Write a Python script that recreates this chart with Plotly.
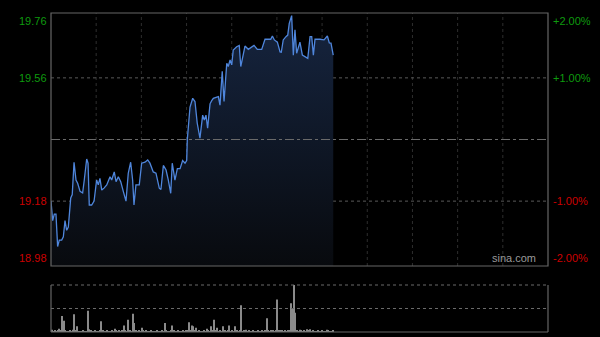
import plotly.graph_objects as go

# ---- data ----
minutes = [0, 1.1, 2.2, 3.3, 4.4, 5.5, 7.1, 8.2, 9.3, 10.4, 11.5, 13.1, 14.1, 15.3, 16.6, 17.7,
           19.3, 21.0, 22.1, 23.7, 24.6, 25.4, 27.0, 28.6, 30.3, 31.4, 32.5, 33.7, 35.2, 37.0,
           39.2, 40.3, 42.0, 43.2, 44.7, 46.3, 48.0, 49.8, 51.3, 52.9, 54.2, 55.1, 56.4, 58.6,
           60.2, 62.4, 64.2, 65.7, 67.9, 69.7, 71.9, 73.0, 74.6, 76.4, 77.9, 79.5, 80.5, 82.3,
           83.9, 85.7, 87.4, 89.0, 90.1, 90.5, 92.3, 94.1, 95.6, 97.1, 98.9, 100.7, 101.8, 102.9,
           104.0, 105.6, 106.7, 107.8, 109.6, 111.1, 112.2, 113.7, 114.9, 116.7, 117.7, 118.9,
           120.0, 121.0, 123.3, 125.0, 126.0, 127.3, 128.8, 131.0, 133.3, 134.8, 137.0, 139.9,
           142.1, 144.3, 145.9, 147.0, 148.3, 150.3, 152.1, 152.9, 154.2, 156.0, 157.2, 158.2,
           159.8, 160.9, 162.0, 163.1, 164.2, 165.3, 166.9, 168.7, 170.5, 172.0, 173.1, 174.2,
           175.3, 178.6, 181.3, 183.5, 184.8, 185.9, 187.4]
prices = [19.18, 19.12, 19.14, 19.14, 19.04, 19.06, 19.06, 19.07, 19.12, 19.09, 19.10, 19.19, 19.20,
          19.30, 19.245, 19.235, 19.21, 19.205, 19.245, 19.31, 19.297, 19.168, 19.168, 19.18,
          19.245, 19.23, 19.25, 19.214, 19.22, 19.23, 19.255, 19.245, 19.27, 19.24, 19.255, 19.24,
          19.21, 19.18, 19.266, 19.30, 19.245, 19.168, 19.23, 19.23, 19.297, 19.30, 19.307, 19.297,
          19.27, 19.266, 19.22, 19.216, 19.29, 19.276, 19.245, 19.204, 19.297, 19.245, 19.28,
          19.28, 19.305, 19.297, 19.305, 19.37, 19.47, 19.497, 19.487, 19.42, 19.374, 19.445,
          19.43, 19.445, 19.405, 19.48, 19.49, 19.497, 19.50, 19.502, 19.476, 19.58, 19.487,
          19.605, 19.595, 19.615, 19.60, 19.646, 19.656, 19.66, 19.595, 19.63, 19.658, 19.648,
          19.656, 19.66, 19.648, 19.648, 19.679, 19.68, 19.679, 19.689, 19.677, 19.67, 19.64,
          19.639, 19.677, 19.687, 19.692, 19.728, 19.752, 19.63, 19.708, 19.636, 19.656, 19.67,
          19.63, 19.625, 19.62, 19.687, 19.687, 19.63, 19.679, 19.679, 19.677, 19.689, 19.668,
          19.667, 19.63]

volume = [0.05, 0.02, 0.03, 0.02, 0.03, 0.07, 0.03, 0.34, 0.24, 0.03,
          0.02, 0.02, 0.03, 0.02, 0.05, 0.38, 0.03, 0.12, 0.02, 0.02,
          0.02, 0.03, 0.02, 0.02, 0.45, 0.06, 0.03, 0.02, 0.02, 0.03,
          0.02, 0.02, 0.03, 0.23, 0.04, 0.02, 0.02, 0.03, 0.02, 0.02,
          0.03, 0.02, 0.07, 0.03, 0.02, 0.03, 0.02, 0.04, 0.14, 0.03,
          0.02, 0.26, 0.03, 0.02, 0.39, 0.19, 0.03, 0.02, 0.03, 0.02,
          0.09, 0.04, 0.02, 0.03, 0.02, 0.02, 0.03, 0.02, 0.02, 0.02,
          0.03, 0.02, 0.02, 0.03, 0.02, 0.19, 0.03, 0.02, 0.02, 0.03,
          0.14, 0.03, 0.02, 0.02, 0.03, 0.02, 0.02, 0.03, 0.02, 0.04,
          0.03, 0.21, 0.04, 0.14, 0.12, 0.03, 0.09, 0.02, 0.03, 0.02,
          0.02, 0.03, 0.02, 0.07, 0.03, 0.02, 0.12, 0.04, 0.26, 0.03,
          0.09, 0.02, 0.03, 0.02, 0.12, 0.03, 0.02, 0.03, 0.14, 0.02,
          0.03, 0.02, 0.12, 0.03, 0.02, 0.03, 0.57, 0.02, 0.03, 0.05,
          0.02, 0.03, 0.02, 0.02, 0.03, 0.02, 0.02, 0.03, 0.02, 0.02,
          0.03, 0.02, 0.04, 0.29, 0.03, 0.02, 0.04, 0.03, 0.02, 0.03,
          0.69, 0.03, 0.04, 0.03, 0.02, 0.03, 0.02, 0.03, 0.04, 0.61,
          0.50, 1.00, 0.41, 0.03, 0.02, 0.05, 0.03, 0.02, 0.03, 0.02,
          0.06, 0.03, 0.06, 0.02, 0.03, 0.02, 0.02, 0.03, 0.02, 0.02,
          0.03, 0.02, 0.02, 0.05, 0.03, 0.02, 0.02, 0.03]
vol_minutes = list(range(len(volume)))

prev_close = 19.37
price_ticks = [19.76, 19.56, 19.18, 18.98]
pct_ticks = ["+2.00%", "+1.00%", "-1.00%", "-2.00%"]
grid_minutes = [30, 60, 90, 120, 150, 180, 210, 240, 270, 300]
y_min, y_max = 18.98, 19.76
x_max = 330

GREEN = "#0e9a0e"
RED = "#cc0000"
FONT = "Liberation Sans, Arial, sans-serif"

fig = go.Figure()

fig.add_trace(go.Scatter(
    x=minutes, y=prices, mode="lines",
    line=dict(color="#4f86dc", width=1.3),
    fill="tozeroy",
    fillgradient=dict(type="vertical", start=y_min, stop=y_max,
                      colorscale=[[0, "rgb(8,10,14)"], [1, "rgb(22,37,64)"]]),
    xaxis="x", yaxis="y", hoverinfo="skip", showlegend=False))

fig.add_trace(go.Bar(
    x=vol_minutes, y=volume, width=0.7,
    marker=dict(color="#8a8a8a", line=dict(width=0)),
    xaxis="x2", yaxis="y2", hoverinfo="skip", showlegend=False))

dom_x = [51 / 600, 548 / 600]
fig.update_layout(
    width=600, height=337, autosize=False,
    margin=dict(l=0, r=0, t=0, b=0),
    paper_bgcolor="#000000", plot_bgcolor="#000000",
    font=dict(family=FONT, size=11, color="#aaaaaa"),
    xaxis=dict(domain=dom_x, range=[0, x_max], showgrid=False, zeroline=False,
               showticklabels=False, fixedrange=True),
    yaxis=dict(domain=[1 - 266 / 337, 1 - 13 / 337], range=[y_min, y_max],
               showgrid=False, zeroline=False, showticklabels=False),
    xaxis2=dict(domain=dom_x, range=[-0.5, x_max], anchor="y2", showgrid=False,
                zeroline=False, showticklabels=False),
    yaxis2=dict(domain=[1 - 332 / 337, 1 - 285 / 337], range=[0, 1.0], anchor="x2",
                showgrid=False, zeroline=False, showticklabels=False),
)

shapes = []
# vertical grid lines in main chart
for m in grid_minutes:
    shapes.append(dict(type="line", xref="x", yref="y domain", x0=m, x1=m, y0=0, y1=1,
                       line=dict(color="#2e2e2e", width=1, dash="dot"), layer="below"))
# horizontal grid lines
for p in [19.56, 19.18]:
    shapes.append(dict(type="line", xref="x domain", yref="y", x0=0, x1=1, y0=p, y1=p,
                       line=dict(color="#5a5a5a", width=1, dash="dot"), layer="below"))
shapes.append(dict(type="line", xref="x domain", yref="y", x0=0, x1=1, y0=prev_close, y1=prev_close,
                   line=dict(color="#6a6a6a", width=1, dash="dashdot"), layer="above"))
# main border
shapes.append(dict(type="rect", xref="x domain", yref="y domain", x0=0, x1=1, y0=0, y1=1,
                   line=dict(color="#666666", width=1.2)))
# volume frame
shapes.append(dict(type="line", xref="x2 domain", yref="y2 domain", x0=0, x1=1, y0=1, y1=1,
                   line=dict(color="#6a6a6a", width=1, dash="dot")))
shapes.append(dict(type="line", xref="x2 domain", yref="y2", x0=0, x1=1, y0=0.5, y1=0.5,
                   line=dict(color="#6a6a6a", width=1, dash="dot")))
for xs in [0, 1]:
    shapes.append(dict(type="line", xref="x2 domain", yref="y2 domain", x0=xs, x1=xs, y0=0, y1=1,
                       line=dict(color="#666666", width=1.2)))
shapes.append(dict(type="line", xref="x2 domain", yref="y2 domain", x0=0, x1=1, y0=0, y1=0,
                   line=dict(color="#666666", width=1.2)))
fig.update_layout(shapes=shapes)

ann = []
for i, (p, pct) in enumerate(zip(price_ticks, pct_ticks)):
    col = GREEN if p > prev_close else RED
    if i == 0:
        ya = "top"
    elif i == len(price_ticks) - 1:
        ya = "bottom"
    else:
        ya = "middle"
    ann.append(dict(xref="x domain", yref="y", x=0, y=p, text=f"{p:.2f}", showarrow=False,
                    xanchor="right", yanchor=ya, xshift=-2,
                    font=dict(color=col, size=11, family=FONT)))
    ann.append(dict(xref="x domain", yref="y", x=1, y=p, text=pct, showarrow=False,
                    xanchor="left", yanchor=ya, xshift=3,
                    font=dict(color=col, size=11, family=FONT)))
ann.append(dict(xref="x domain", yref="y domain", x=(538 - 51) / 497, y=0, text="sina.com",
                showarrow=False, xanchor="right", yanchor="bottom", yshift=0,
                font=dict(color="#9a9a9a", size=11, family=FONT)))
fig.update_layout(annotations=ann)

fig.write_html("out.html")
